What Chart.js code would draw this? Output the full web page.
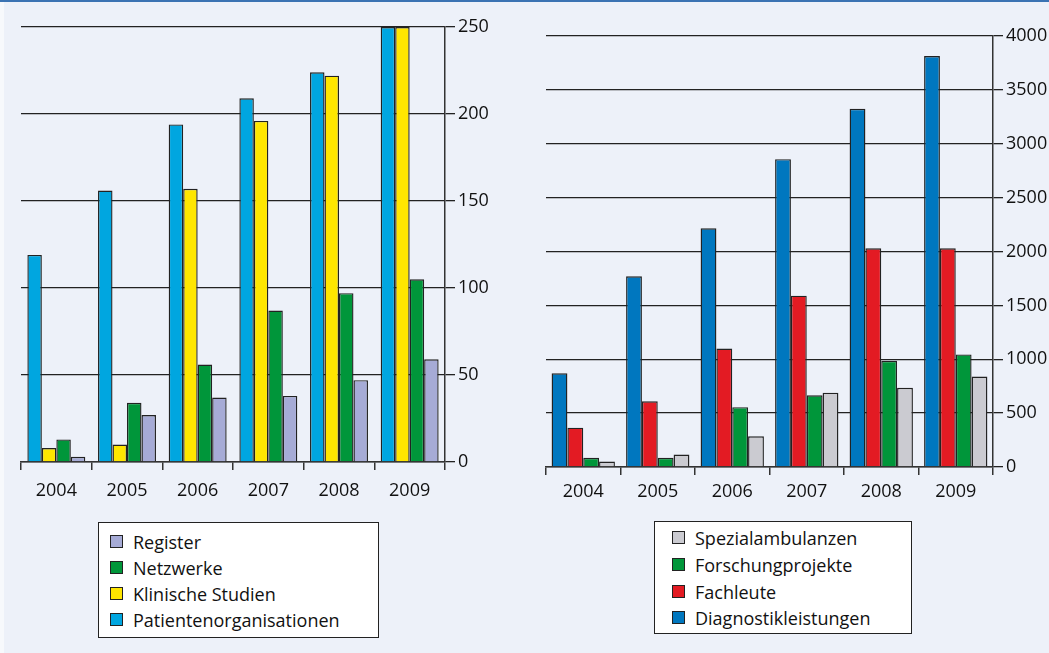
<!DOCTYPE html>
<html><head><meta charset="utf-8">
<script src="https://cdn.jsdelivr.net/npm/chart.js@4"></script>
<style>
html,body{margin:0;padding:0;}
body{width:1049px;height:653px;background:#edf1f9;position:relative;overflow:hidden;font-family:"Open Sans",sans-serif;}
#topline{position:absolute;left:0;top:0;width:1049px;height:2px;background:#3b73b3;}
#leftstrip{position:absolute;left:0;top:2px;width:4px;height:651px;background:#f7f9fc;}
#c1{position:absolute;left:0;top:0;}
#c2{position:absolute;left:530px;top:0;}
.legend{position:absolute;background:#fff;border:1.5px solid #222;box-sizing:border-box;}
.legend .row{position:absolute;height:26px;line-height:26px;font-size:18px;color:#111;white-space:nowrap;}
.legend .sw{position:absolute;top:6px;width:13px;height:13px;border:1.5px solid #222;box-sizing:border-box;}
.legend .tx{position:absolute;top:0;}
</style>
</head><body>
<div id="topline"></div>
<div id="leftstrip"></div>
<canvas id="c1" width="520" height="510"></canvas>
<canvas id="c2" width="519" height="510"></canvas>
<div id="leg1" class="legend" style="left:98px;top:522px;width:281px;height:116px;"></div>
<div id="leg2" class="legend" style="left:654px;top:521px;width:258px;height:113px;"></div>
<script>
const years = ['2004','2005','2006','2007','2008','2009'];

// Left chart
const leftLabels = ['Patientenorganisationen','Klinische Studien','Netzwerke','Register'];
const leftColors = ['#00a6e0','#ffe600','#00963a','#a6abd6'];
const patientenorganisationen = [119, 156, 194, 209, 224, 250];
const klinischeStudien = [8, 10, 157, 196, 222, 250];
const netzwerke = [13, 34, 56, 87, 97, 105];
const register = [3, 27, 37, 38, 47, 59];
const leftTicks = {max: 250, step: 50};

// Right chart
const rightLabels = ['Diagnostikleistungen','Fachleute','Forschungprojekte','Spezialambulanzen'];
const rightColors = ['#0077bf','#e31b23','#00963a','#cbcbd1'];
const diagnostikleistungen = [870, 1770, 2216, 2857, 3324, 3814];
const fachleute = [365, 610, 1100, 1590, 2030, 2030];
const forschungprojekte = [85, 85, 555, 665, 985, 1045];
const spezialambulanzen = [50, 115, 285, 690, 735, 840];
const rightTicks = {max: 4000, step: 500};

const FONT = {family: '"Open Sans", sans-serif', size: 18};

function makeChart(id, seriesLabels, seriesData, colors, tk, pad, yW, xH, catPct, xPad) {
  return new Chart(document.getElementById(id), {
    type: 'bar',
    data: {
      labels: years,
      datasets: seriesLabels.map((l, i) => ({
        label: l, data: seriesData[i], backgroundColor: colors[i],
        borderColor: '#222', borderWidth: 1.4,
        barPercentage: 1, categoryPercentage: catPct
      }))
    },
    options: {
      responsive: false, animation: false,
      layout: {padding: {left: pad.l, top: pad.t, right: 0, bottom: 0}},
      plugins: {legend: {display: false}, tooltip: {enabled: false}},
      scales: {
        x: {
          grid: {display: true, drawOnChartArea: false, offset: true, tickLength: 8, color: '#333', lineWidth: 1.5},
          border: {color: '#333', width: 1.5},
          ticks: {color: '#111', font: FONT, padding: xPad, maxRotation: 0},
          afterFit(s) { s.height = xH; }
        },
        y: {
          position: 'right', min: 0, max: tk.max,
          ticks: {stepSize: tk.step, color: '#111', font: FONT, padding: 3,
                  callback: (v) => String(v)},
          grid: {color: '#222', lineWidth: 1.3, tickLength: 10},
          border: {color: '#333', width: 1.5},
          afterFit(s) { s.width = yW; }
        }
      }
    }
  });
}

makeChart('c1', leftLabels, [patientenorganisationen, klinischeStudien, netzwerke, register], leftColors,
  leftTicks, {l: 21, t: 27}, 75, 48, 0.82, 10);
makeChart('c2', rightLabels, [diagnostikleistungen, fachleute, forschungprojekte, spezialambulanzen], rightColors,
  rightTicks, {l: 16, t: 36}, 56, 43, 0.85, 6);

function buildLegend(id, labels, colors, tops, swLeft, txLeft) {
  const el = document.getElementById(id);
  const order = labels.map((l, i) => i).reverse();
  order.forEach((idx, r) => {
    const row = document.createElement('div');
    row.className = 'row';
    row.style.top = (tops[r] - 13) + 'px';
    row.style.left = '0px';
    const sw = document.createElement('div');
    sw.className = 'sw';
    sw.style.left = swLeft + 'px';
    sw.style.background = colors[idx];
    const tx = document.createElement('span');
    tx.className = 'tx';
    tx.style.left = txLeft + 'px';
    tx.textContent = labels[idx];
    row.appendChild(sw); row.appendChild(tx);
    el.appendChild(row);
  });
}
buildLegend('leg1', leftLabels, leftColors, [19, 45, 71, 97], 11, 34);
buildLegend('leg2', rightLabels, rightColors, [16, 43, 70, 96], 17, 40);
</script>
</body></html>
